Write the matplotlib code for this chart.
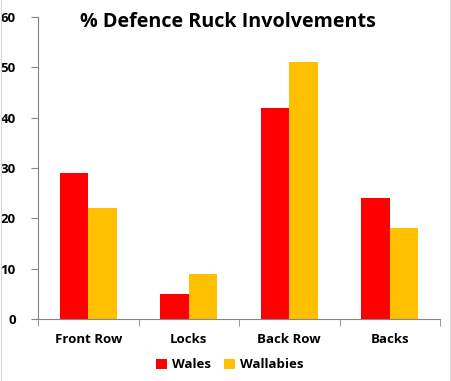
import numpy as np
import matplotlib
matplotlib.use('Agg')
import matplotlib.pyplot as plt
from matplotlib.lines import Line2D

categories = ['Front Row', 'Locks', 'Back Row', 'Backs']
wales = [29, 5, 42, 24]
wallabies = [22, 9, 51, 18]

plt.rcParams['font.family'] = ['Open Sans', 'DejaVu Sans']

fig = plt.figure(figsize=(4.52, 3.81), dpi=100)

# faint spreadsheet cell borders at the edges of the screenshot
for xf in (1.5 / 452, 450.5 / 452):
    fig.add_artist(Line2D([xf, xf], [0, 1], transform=fig.transFigure,
                          color='#d9d9d9', lw=0.8))

ax = fig.add_axes([38 / 452, 1 - 319 / 381, 402 / 452, 302 / 381])

x = np.arange(len(categories))
w = 0.285
ax.bar(x - w / 2, wales, width=w, color='#ff0000', label='Wales')
ax.bar(x + w / 2, wallabies, width=w, color='#ffc000', label='Wallabies')

ax.set_xlim(-0.5, len(categories) - 0.5)
ax.set_ylim(0, 60)
ax.set_yticks(range(0, 61, 10))
ax.set_xticks(x)
ax.set_xticklabels(categories, fontweight='bold', fontsize=9.5)
ax.set_xticks(np.arange(-0.5, len(categories)), minor=True)
ax.tick_params(axis='x', which='major', length=0, pad=10)
ax.tick_params(axis='x', which='minor', length=5, color='#868686', direction='out')
ax.tick_params(axis='y', length=5, color='#868686', pad=11, labelsize=9.5)
for lbl in ax.get_yticklabels():
    lbl.set_fontweight('bold')

for side in ['top', 'right']:
    ax.spines[side].set_visible(False)
for side in ['left', 'bottom']:
    ax.spines[side].set_color('#868686')

fig.text(228 / 452, 1 - 22 / 381, '% Defence Ruck Involvements', ha='center', va='center',
         fontsize=14.2, fontweight='bold')

fig.legend(loc='center', bbox_to_anchor=(230 / 452, 1 - 365 / 381), ncol=2, frameon=False,
           prop={'weight': 'bold', 'size': 9.5}, handlelength=0.8, handleheight=0.8,
           columnspacing=1.0, handletextpad=0.4)

fig.savefig('out.png', dpi=100)
